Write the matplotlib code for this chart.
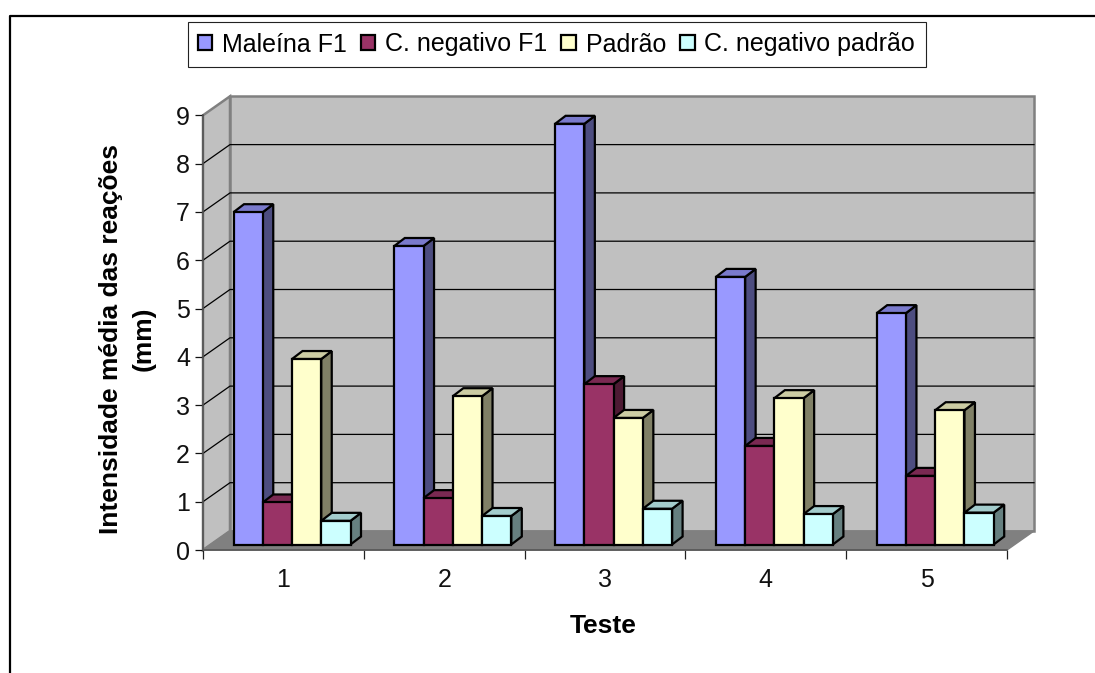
import matplotlib
matplotlib.use('Agg')
import matplotlib.pyplot as plt
from matplotlib.lines import Line2D
from matplotlib.patches import Patch, Polygon

plt.rcParams['font.family'] = ['Liberation Sans', 'DejaVu Sans']

testes = ['1', '2', '3', '4', '5']
series = ['Maleína F1', 'C. negativo F1', 'Padrão', 'C. negativo padrão']
maleina = [6.88, 6.18, 8.71, 5.54, 4.79]
neg_f1 = [0.87, 0.96, 3.32, 2.04, 1.42]
padrao = [3.84, 3.07, 2.62, 3.03, 2.78]
neg_padrao = [0.49, 0.59, 0.74, 0.63, 0.66]

# front, top, side
colors = [('#9999ff', '#7a7acc', '#4d4d80'),
          ('#993366', '#7a2952', '#4d1a33'),
          ('#ffffcc', '#cccca3', '#808066'),
          ('#ccffff', '#a3cccc', '#668080')]

W, H = 1095, 673
px_x = 804 / 5     # pixels per category
px_y = 48.3        # pixels per unit

fig = plt.figure(figsize=(W / 100, H / 100), dpi=100)
ax = fig.add_axes([203 / W, (H - 550) / H, 804 / W, 9 * px_y / H])
ax.set_xlim(0, 5)
ax.set_ylim(0, 9)
ax.patch.set_visible(False)
for s in ax.spines.values():
    s.set_visible(False)

wall_dx = 27 / px_x
wall_dy = 19 / px_y
bar_w = 29.25 / px_x
bar_dx = 10.5 / px_x
bar_dy = 8 / px_y
bar_x0 = 30.5 / px_x
bar_y0 = 5.5 / px_y


def poly(pts, fc, ec, lw, z):
    ax.add_patch(Polygon(pts, closed=True, facecolor=fc, edgecolor=ec, linewidth=lw,
                         joinstyle='miter', clip_on=False, zorder=z))


# walls and floor
poly([(0, 0), (wall_dx, wall_dy), (wall_dx, 9 + wall_dy), (0, 9)], '#c0c0c0', '#808080', 1.8, 1)
poly([(wall_dx, wall_dy), (5 + wall_dx, wall_dy), (5 + wall_dx, 9 + wall_dy), (wall_dx, 9 + wall_dy)],
     '#c0c0c0', '#808080', 1.8, 1)
poly([(0, 0), (5, 0), (5 + wall_dx, wall_dy), (wall_dx, wall_dy)], '#808080', '#808080', 1, 2)

for v in range(1, 9):
    ax.plot([0, wall_dx, 5 + wall_dx], [v, v + wall_dy, v + wall_dy], color='black', lw=0.9,
            clip_on=False, zorder=1.5)

# bars
z = 3
for g in range(5):
    vals = [maleina[g], neg_f1[g], padrao[g], neg_padrao[g]]
    for i, v in enumerate(vals):
        x0 = g + bar_x0 + i * bar_w
        x1 = x0 + bar_w
        y0 = bar_y0
        y1 = bar_y0 + v
        front, top, side = colors[i]
        poly([(x1, y0), (x1 + bar_dx, y0 + bar_dy), (x1 + bar_dx, y1 + bar_dy), (x1, y1)], side, 'black', 1.6, z)
        poly([(x0, y1), (x1, y1), (x1 + bar_dx, y1 + bar_dy), (x0 + bar_dx, y1 + bar_dy)], top, 'black', 1.6, z)
        poly([(x0, y0), (x1, y0), (x1, y1), (x0, y1)], front, 'black', 1.6, z)
        z += 0.1

ax.plot([0, 0, 5], [9, 0, 0], color='#555555', lw=1.2, clip_on=False, zorder=2.5)

ax.set_yticks(range(10))
ax.tick_params(axis='y', length=5.8, width=0.9, labelsize=18, pad=3.5, colors='#111111')
ax.set_xticks(range(6))
ax.set_xticklabels([])
ax.set_xticks([i + 0.5 for i in range(5)], labels=testes, minor=True)
ax.tick_params(axis='x', which='major', length=6.5, width=0.9, color='#222222')
ax.tick_params(axis='x', which='minor', length=0, labelsize=18, pad=13, labelcolor='#111111')

fig.text(603 / W, 1 - 626 / H, 'Teste', fontsize=19, fontweight='bold', ha='center', va='center')
fig.text(127.5 / W, 1 - 339 / H, 'Intensidade média das reações\n(mm)', fontsize=19, fontweight='bold',
         rotation=90, ha='center', va='center', linespacing=1.45, multialignment='center')

handles = [Patch(facecolor=c[0], edgecolor='black', linewidth=1.6) for c in colors]
leg = fig.legend(handles, series, loc='center', bbox_to_anchor=(556.5 / W, 1 - 44.5 / H), ncol=4, fontsize=18,
                 frameon=True, fancybox=False, edgecolor='#222222', framealpha=1,
                 handlelength=0.58, handleheight=0.58, handletextpad=0.4, columnspacing=0.55,
                 borderpad=0.41, borderaxespad=0)
leg.get_frame().set_linewidth(0.8)

# chart frame, cropped at the right and at the bottom
fig.add_artist(Line2D([9.5 / W, 9.5 / W, 1], [0, 1 - 15.5 / H, 1 - 15.5 / H], color='black', lw=1.6))

fig.savefig('out.png', dpi=100)
